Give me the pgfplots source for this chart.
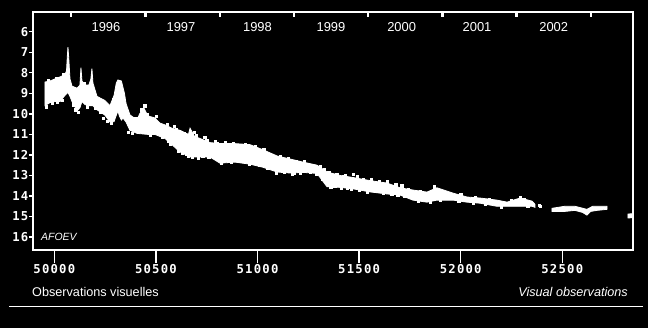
\documentclass[border=0pt]{standalone}
\usepackage{pgfplots}
\pgfplotsset{compat=1.18}
\usepackage{fontspec}
\setmainfont{Liberation Sans}
\newfontfamily\tickfont[LetterSpace=10]{DejaVu Sans Mono}
\begin{document}
\begin{tikzpicture}
\fill[black] (0,0) rectangle (648bp,328bp);
\pgfplotsset{base/.style={at={(33bp,78bp)}, anchor=south west, scale only axis,
  width=600bp, height=238bp, xmin=49895, xmax=52848, ymin=5.04, ymax=16.63, y dir=reverse,
  scaled x ticks=false, scaled y ticks=false}}
% main axis: frame, y ticks, data
\begin{axis}[base,
  axis line style={white, line width=1.4bp},
  xtick=\empty,
  ytick={6,7,8,9,10,11,12,13,14,15,16},
  yticklabels={6,7,8,9,10,11,12,13,14,15,16},
  ytick pos=left, tick align=outside, major tick length=4bp,
  tick style={white, line width=1.4bp},
  yticklabel style={font=\tickfont\bfseries\fontsize{12.3}{14}\selectfont, text=white, inner xsep=0.5bp},
  clip=true]
% main band
\addplot[fill=white, draw=white, line width=0.8bp, mark=none] coordinates {
(49954,8.45) (49979,8.4) (50003,8.3) (50028,8.2) (50052,8.1) (50060,7.9) (50064,7.2)
(50067,6.75) (50071,7.3) (50077,8.3) (50087,8.65) (50112,8.75) (50126,8.6) (50131,7.75)
(50136,8.4) (50151,8.6) (50170,8.6) (50180,8.3) (50185,7.8) (50190,8.5) (50210,9.15)
(50249,9.35) (50274,9.6) (50294,9.1) (50305,8.5) (50313,8.35) (50330,8.4) (50345,9.0)
(50353,9.5) (50372,10.05) (50407,10.3) (50420,10.0) (50440,9.7) (50460,10.1) (50495,10.2)
(50520,10.45) (50545,10.54) (50579,10.7) (50618,10.8) (50660,11.0) (50668,10.7) (50690,11.1)
(50717,11.2) (50766,11.4) (50815,11.45) (50889,11.45) (50963,11.5) (51027,11.75) (51096,12.05)
(51160,12.2) (51224,12.35) (51293,12.5) (51342,12.83) (51406,13.0) (51470,13.1) (51553,13.25)
(51637,13.37) (51701,13.6) (51765,13.71) (51834,13.81) (51883,13.6) (51962,13.86) (52031,14.05)
(52095,14.1) (52178,14.2) (52228,14.3) (52292,14.1) (52351,14.25) (52365,14.4)
(52365,14.55) (52351,14.5) (52292,14.5) (52228,14.5) (52178,14.5) (52095,14.35) (52031,14.3)
(51962,14.2) (51883,14.2) (51834,14.3) (51765,14.2) (51701,13.95) (51637,13.9) (51553,13.8)
(51470,13.65) (51406,13.58) (51342,13.55) (51293,12.9) (51224,12.85) (51160,12.88) (51096,12.83)
(51027,12.6) (50963,12.45) (50889,12.35) (50815,12.4) (50766,12.1) (50717,12.1) (50668,12.1)
(50618,11.85) (50579,11.5) (50545,11.2) (50520,11.1) (50495,11.0) (50460,11.0) (50407,10.95)
(50372,10.8) (50353,10.4) (50338,10.2) (50330,10.3) (50320,10.1) (50313,9.85) (50300,10.2)
(50294,10.38) (50274,10.4) (50249,10.06) (50210,9.8) (50190,9.6) (50170,9.6) (50151,9.55)
(50136,9.4) (50126,9.7) (50112,9.85) (50087,9.4) (50077,9.15) (50067,8.95) (50052,9.1)
(50028,9.4) (50003,9.4) (49979,9.45) (49954,9.6)
} -- cycle;
% second segment
\addplot[fill=white, draw=white, line width=0.8bp, mark=none] coordinates {
(52449,14.6) (52513,14.5) (52562,14.5) (52621,14.65) (52650,14.5) (52670,14.5) (52720,14.5)
(52720,14.65) (52670,14.7) (52640,14.75) (52621,14.93) (52600,14.8) (52562,14.7) (52513,14.75) (52449,14.75)
} -- cycle;
% last segment
\addplot[fill=white, draw=white, line width=0.8bp, mark=none] coordinates {
(52823,14.88) (52860,14.85) (52860,15.05) (52823,15.07)
} -- cycle;
% scattered points
\addplot[only marks, mark=square*, mark size=1.1bp, white] coordinates {
(49960,9.65) (49990,9.5) (50015,9.45) (50040,9.35) (49970,8.35) (50010,8.25) (50045,8.05)
(50095,9.55) (50105,9.8) (50118,9.9) (50145,8.5) (50160,9.65) (50200,9.7) (50225,9.9)
(50240,10.2) (50260,10.35) (50280,10.45) (50290,9.3) (50365,10.9) (50385,10.95) (50400,10.2)
(50430,9.8) (50445,9.6) (50455,10.0) (50470,11.05) (50500,10.1) (50530,11.15) (50555,10.5)
(50570,11.45) (50600,10.75) (50630,11.9) (50650,11.95) (50680,12.1) (50700,11.05) (50730,12.05)
(50750,11.3) (50780,12.1) (50800,11.45) (50830,12.3) (50850,11.5) (50899,11.57) (50920,12.15)
(50950,11.65) (50978,11.62) (51000,12.4) (51040,11.95) (51060,12.55) (51080,12.1) (51120,12.8)
(51140,12.25) (51180,12.9) (51200,12.35) (51250,12.45) (51260,12.85) (51300,12.6) (51320,13.2)
(51350,12.85) (51380,13.5) (51420,13.05) (51440,13.6) (51470,12.93) (51500,13.7) (51520,13.2)
(51580,13.75) (51600,13.3) (51660,13.9) (51680,13.45) (51720,14.0) (51740,13.65) (51790,14.25)
(51800,13.75) (51850,14.3) (51870,13.55) (51900,14.2) (51930,13.9) (51990,14.25) (52000,13.9)
(52060,14.35) (52070,14.05) (52120,14.4) (52140,14.15) (52200,14.55) (52250,14.2) (52292,14.05)
(52310,14.15) (52330,14.5) (52388,14.45) (52390,14.5)
(50560,11.35) (50590,10.6) (50610,11.8) (50640,10.95) (50660,12.05) (50690,10.9) (50710,12.15)
(50740,11.15) (50760,12.1) (50790,11.35) (50820,12.4) (50840,11.4) (50870,12.35) (50880,11.45)
(50910,12.3) (50940,11.5) (50960,12.45) (50990,11.6) (51010,12.5) (51030,11.75) (51050,12.65)
(51070,12.0) (51090,12.9) (51110,12.05) (51130,12.85) (51150,12.15) (51170,12.95) (51190,12.3)
(51210,12.9) (51230,12.3) (51270,12.5) (51290,12.95) (51310,12.55) (51330,12.7) (51360,13.55)
(51390,12.95) (51410,13.6) (51430,13.0) (51460,13.65) (51490,13.05) (51540,13.8) (51560,13.2)
(51620,13.85) (51640,13.3) (51690,13.95) (51710,13.5)
};
\end{axis}
% bottom x ticks
\begin{axis}[base, hide y axis, axis x line*=bottom,
  x axis line style={-, white, line width=1.4bp},
  xtick={50000,50500,51000,51500,52000,52500},
  xticklabels={50000,50500,51000,51500,52000,52500},
  tick align=outside, major tick length=13bp,
  xtick style={white, line width=1.4bp},
  xticklabel style={font=\tickfont\bfseries\fontsize{12.3}{14}\selectfont, text=white, inner ysep=1bp}]
\end{axis}
% top year ticks
\begin{axis}[base, hide y axis, axis x line*=top,
  x axis line style={-, white, line width=1.4bp},
  xtick={50083,50449,50814,51179,51544,51910,52275,52640},
  xticklabels={},
  tick align=inside, major tick length=5bp,
  xtick style={white, line width=2.2bp}]
\end{axis}
% year labels
\foreach \xx/\yr in {106/1996,181/1997,257.5/1998,331/1999,401.7/2000,477/2001,553.7/2002}
  \node[text=white, font=\fontsize{13}{15}\selectfont, inner sep=0pt] at (\xx bp,301.3bp) {\yr};
\node[text=white, font=\itshape\fontsize{10.5}{12}\selectfont, anchor=west, inner sep=0pt] at (41bp,91bp) {AFOEV};
\node[text=white, font=\fontsize{12.7}{14}\selectfont, anchor=west, inner sep=0pt] at (32bp,36bp) {Observations visuelles};
\node[text=white, font=\itshape\fontsize{12.7}{14}\selectfont, anchor=east, inner sep=0pt] at (628bp,36bp) {Visual observations};
\draw[white, line width=1.2bp] (9bp,21.3bp) -- (643bp,21.3bp);
\pgfresetboundingbox
\useasboundingbox (0,0) rectangle (648bp,328bp);
\end{tikzpicture}
\end{document}
